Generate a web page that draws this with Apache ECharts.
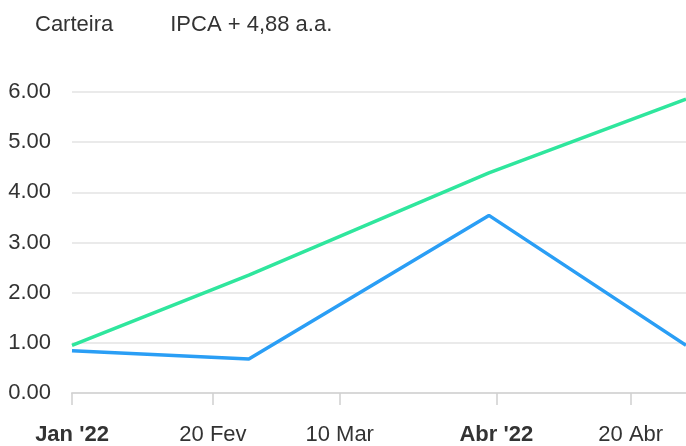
<!DOCTYPE html>
<html>
<head>
<meta charset="utf-8">
<script src="https://cdn.jsdelivr.net/npm/echarts@6/dist/echarts.min.js"></script>
<style>html,body{margin:0;padding:0;background:#fff}#c{width:686px;height:446px}</style>
</head>
<body>
<div id="c"></div>
<script>
// Ordinal positions of data points (0..100 along the ordinal x axis)
const pointPos = [0, 28.8, 67.9, 100];
const carteira = [0.84, 0.68, 3.54, 0.95];
const ipca = [0.95, 2.35, 4.39, 5.86];
// Tick positions on the same ordinal scale and their labels
const tickPos = [0, 22.96, 43.6, 69.1, 91.0];
const tickLabels = ["Jan '22", "20 Fev", "10 Mar", "Abr '22", "20 Abr"];
const boldTicks = ["Jan '22", "Abr '22"];
const seriesNames = ['Carteira', 'IPCA + 4,88 a.a.'];

const FONT = "'Liberation Sans', Arial, sans-serif";
const chart = echarts.init(document.getElementById('c'), null, {renderer: 'canvas'});
chart.setOption({
  animation: false,
  textStyle: {fontFamily: FONT},
  legend: {
    left: 25, top: 9,
    itemWidth: 0, itemHeight: 0, itemGap: 52,
    icon: 'rect',
    textStyle: {fontSize: 22, color: '#333', fontFamily: FONT},
    data: seriesNames
  },
  grid: {left: 72, right: 0, top: 92, bottom: 53, containLabel: false},
  xAxis: {
    type: 'value', min: 0, max: 100,
    splitLine: {show: false},
    axisLine: {show: true, lineStyle: {color: '#d8d8d8', width: 2}},
    axisTick: {show: true, length: 12, customValues: tickPos, lineStyle: {color: '#d0d0d0', width: 1.5}},
    axisLabel: {
      customValues: tickPos,
      margin: 31,
      fontSize: 22, color: '#333', fontFamily: FONT,
      formatter: function (v) {
        let i = tickPos.indexOf(v);
        if (i < 0) { i = tickPos.findIndex(t => Math.abs(t - v) < 1e-6); }
        const s = tickLabels[i] || '';
        return boldTicks.includes(s) ? '{b|' + s + '}' : s;
      },
      rich: {b: {fontWeight: 'bold', fontSize: 22, color: '#333', fontFamily: FONT}}
    }
  },
  yAxis: {
    type: 'value', min: 0, max: 6, interval: 1,
    axisLine: {show: false}, axisTick: {show: false},
    splitLine: {lineStyle: {color: '#e3e3e3', width: 1.5}},
    axisLabel: {
      margin: 21, fontSize: 22, color: '#333', fontFamily: FONT,
      formatter: v => v.toFixed(2)
    }
  },
  series: [
    {
      name: seriesNames[0], type: 'line', showSymbol: false, symbol: 'none',
      lineStyle: {color: '#2a9ef5', width: 3.5}, itemStyle: {color: '#2a9ef5'},
      data: pointPos.map((p, i) => [p, carteira[i]]), z: 3
    },
    {
      name: seriesNames[1], type: 'line', showSymbol: false, symbol: 'none',
      lineStyle: {color: '#2fe69d', width: 3.5}, itemStyle: {color: '#2fe69d'},
      data: pointPos.map((p, i) => [p, ipca[i]]), z: 2
    }
  ]
});
</script>
</body>
</html>
